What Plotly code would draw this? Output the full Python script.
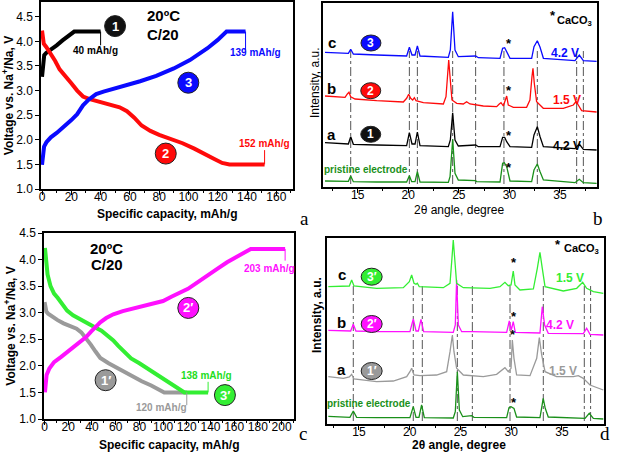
import plotly.graph_objects as go

FONT = "Liberation Sans, Arial, sans-serif"

# ---------------- Panel a: charge/discharge, first cycle set ----------------
cap_a1 = [0, 0.7, 1.5, 3, 6, 10, 14, 18, 22, 40]
volt_a1 = [3.28, 3.6, 3.72, 3.77, 3.83, 3.92, 4.02, 4.11, 4.2, 4.2]
cap_a2 = [0, 0.5, 1.2, 3, 6, 9, 12, 16, 20, 24, 28, 32, 36, 41, 47, 53, 58, 63, 68, 74, 80, 88, 96, 104, 110, 117, 123, 128, 152]
volt_a2 = [4.22, 4.05, 3.95, 3.88, 3.75, 3.6, 3.43, 3.3, 3.15, 3.0, 2.88, 2.83, 2.8, 2.77, 2.72, 2.66, 2.58, 2.45, 2.29, 2.18, 2.1, 2.02, 1.93, 1.82, 1.72, 1.62, 1.53, 1.5, 1.5]
cap_a3 = [0, 0.5, 1.4, 3, 6, 10, 14, 20, 24, 28, 32, 37, 42, 47, 53, 58, 67, 78, 90, 101, 108, 113, 120, 126, 139]
volt_a3 = [1.49, 1.7, 1.86, 1.95, 2.05, 2.14, 2.24, 2.4, 2.52, 2.7, 2.82, 2.93, 2.98, 3.02, 3.07, 3.11, 3.19, 3.3, 3.45, 3.62, 3.75, 3.86, 4.03, 4.2, 4.2]

# ---------------- Panel c: charge/discharge, second set ----------------
cap_c1 = [0, 0.5, 1.5, 3, 6, 11, 16, 22, 27, 31, 35, 39, 43, 47, 54, 61, 68, 75, 82, 90, 96, 101, 120]
volt_c1 = [3.2, 3.1, 3.02, 2.98, 2.93, 2.86, 2.8, 2.75, 2.7, 2.63, 2.52, 2.4, 2.27, 2.15, 2.05, 1.96, 1.87, 1.79, 1.71, 1.63, 1.55, 1.5, 1.5]
cap_c2 = [0.3, 0.8, 1.7, 4, 8, 14, 19, 25, 30, 35, 39, 43, 47, 52, 58, 66, 75, 84, 92, 100, 107, 114, 121, 129, 137, 146, 154, 163, 170, 174, 203]
volt_c2 = [1.5, 1.7, 1.83, 1.95, 2.07, 2.17, 2.26, 2.35, 2.45, 2.54, 2.64, 2.74, 2.82, 2.9, 2.97, 3.03, 3.08, 3.13, 3.17, 3.22, 3.3, 3.37, 3.45, 3.57, 3.7, 3.83, 3.95, 4.06, 4.14, 4.2, 4.2]
cap_c3 = [0.3, 1, 2.5, 5, 8, 11, 15, 19, 24, 30, 36, 42, 48, 53, 58, 62, 67, 73, 80, 87, 94, 101, 108, 114, 118, 138]
volt_c3 = [4.22, 4.0, 3.72, 3.5, 3.36, 3.28, 3.15, 3.04, 2.95, 2.87, 2.8, 2.73, 2.66, 2.58, 2.48, 2.38, 2.26, 2.14, 2.05, 1.95, 1.86, 1.76, 1.66, 1.56, 1.5, 1.5]

# ---------------- Panel b: XRD patterns ----------------
tt_b_pr = [11.77, 13.58, 14.08, 14.31, 14.57, 16.88, 19.84, 20.11, 20.34, 20.67, 20.90, 21.16, 23.96, 24.13, 24.39, 24.62, 24.95, 26.66, 26.76, 29.07, 29.33, 29.5, 29.73, 30.06, 32.2, 32.43, 32.76, 33.03, 33.36, 36.48, 36.91, 37.31, 38.62]
int_b_pr = [6.0, 5.33, 5.67, 11.0, 5.33, 5.0, 5.0, 11.3, 5.33, 5.33, 15.3, 5.0, 4.67, 10.3, 47.7, 13.7, 7.0, 6.33, 5.33, 5.0, 23.7, 24.3, 20.3, 6.0, 5.33, 17.0, 23.0, 15.3, 7.0, 4.33, 7.7, 4.33, 3.67]
tt_b_a = [11.77, 13.58, 14.08, 14.31, 14.57, 16.88, 19.84, 20.11, 20.37, 20.67, 20.90, 21.16, 23.96, 24.16, 24.39, 24.62, 24.95, 26.66, 26.93, 29.07, 29.33, 29.53, 29.73, 30.06, 32.2, 32.43, 32.76, 33.03, 33.36, 36.48, 36.91, 37.31, 38.62]
int_b_a = [44.3, 43.0, 43.0, 50.3, 42.7, 42.0, 41.3, 54.3, 43.0, 43.0, 55.0, 41.3, 40.3, 47.0, 74.3, 47.0, 41.0, 42.0, 40.3, 40.3, 49.7, 49.7, 45.3, 40.3, 39.7, 52.0, 60.3, 50.3, 40.3, 38.3, 43.0, 37.7, 37.0]
tt_b_b = [11.77, 12.92, 13.75, 13.98, 14.14, 14.31, 14.74, 16.88, 19.51, 19.84, 20.04, 20.24, 20.44, 20.6, 20.77, 21.49, 23.47, 23.73, 23.9, 24.0, 24.13, 24.32, 24.79, 25.44, 25.77, 26.1, 27.42, 28.74, 29.0, 29.17, 29.4, 29.6, 29.73, 29.89, 30.39, 31.7, 32.03, 32.23, 32.33, 32.46, 32.69, 33.35, 35.33, 36.32, 36.58, 36.81, 37.14, 38.62]
int_b_b = [91.0, 90.3, 89.7, 93.0, 94.7, 90.3, 88.0, 86.3, 85.0, 88.7, 92.7, 88.7, 87.0, 89.3, 86.3, 84.3, 83.0, 90.3, 117.0, 127.0, 110.3, 87.0, 83.7, 83.0, 85.3, 83.0, 81.0, 80.3, 83.0, 84.3, 81.0, 87.0, 91.0, 82.0, 79.7, 79.7, 87.0, 110.3, 118.7, 103.7, 85.3, 78.7, 78.7, 82.0, 85.3, 82.0, 76.3, 75.0]
tt_b_c = [11.77, 13.58, 14.08, 14.31, 14.57, 16.88, 19.84, 20.11, 20.37, 20.67, 20.90, 21.16, 23.96, 24.16, 24.39, 24.62, 24.95, 26.66, 26.93, 29.07, 29.33, 29.53, 29.73, 30.06, 32.2, 32.43, 32.76, 33.03, 33.36, 36.48, 36.91, 37.31, 38.62]
int_b_c = [134.7, 133.7, 133.7, 137.7, 133.0, 132.0, 131.0, 139.7, 132.0, 132.0, 141.0, 131.0, 129.7, 137.0, 175.3, 137.0, 130.3, 131.0, 129.3, 128.7, 138.7, 139.3, 135.3, 128.7, 128.7, 140.3, 146.3, 139.7, 128.7, 126.3, 132.0, 126.3, 125.7]
ref_lines_b = [14.31, 20.11, 20.9, 24.39, 26.66, 29.46, 32.76, 36.65, 37.31]

# ---------------- Panel d: XRD patterns ----------------
tt_d_pr = [11.98, 13.46, 14.11, 14.44, 14.77, 16.74, 20.02, 20.35, 20.62, 20.91, 21.17, 21.44, 24.29, 24.49, 24.69, 24.89, 25.22, 26.1, 26.33, 29.55, 29.78, 29.98, 30.11, 30.27, 30.53, 32.83, 32.99, 33.15, 33.35, 33.65, 37.27, 37.69, 38.09, 39.07]
int_d_pr = [7.67, 7.0, 6.67, 13.0, 6.67, 6.33, 6.33, 17.33, 6.67, 6.67, 19.0, 6.33, 6.0, 12.33, 52.33, 14.0, 7.33, 8.33, 6.67, 6.33, 16.33, 17.33, 16.33, 15.67, 7.0, 6.33, 15.67, 25.67, 15.67, 7.0, 5.67, 10.67, 5.67, 5.0]
tt_d_a = [11.98, 13.46, 14.05, 14.28, 14.51, 16.74, 18.38, 19.7, 20.02, 20.19, 20.42, 21.01, 22.65, 23.64, 23.97, 24.2, 24.36, 24.62, 25.28, 27.25, 28.56, 29.15, 29.38, 29.71, 29.98, 30.11, 30.27, 30.53, 31.85, 32.51, 32.77, 33.0, 33.33, 34.47, 36.12, 36.61, 37.1, 37.76, 39.07]
int_d_a = [47.3, 45.7, 47.0, 49.7, 45.0, 42.3, 43.0, 47.3, 52.3, 55.7, 49.0, 48.3, 49.0, 52.3, 72.3, 89.0, 72.3, 55.7, 49.0, 47.3, 49.7, 54.0, 56.3, 52.3, 55.7, 84.0, 65.7, 49.0, 48.3, 65.7, 86.3, 69.0, 52.3, 47.3, 47.3, 48.3, 45.7, 39.0, 34.0]
tt_d_b = [11.98, 13.46, 14.18, 14.44, 14.7, 16.74, 20.02, 20.35, 20.62, 20.85, 21.11, 21.37, 24.29, 24.49, 24.62, 24.79, 25.12, 26.1, 29.55, 29.81, 30.01, 30.2, 30.4, 32.83, 33.06, 33.29, 33.65, 37.1, 37.43, 37.76, 39.07]
int_d_b = [93.7, 93.0, 93.0, 99.7, 93.0, 92.3, 92.3, 105.0, 93.0, 93.0, 104.7, 92.3, 91.7, 99.0, 144.0, 99.0, 92.3, 92.3, 91.7, 103.0, 94.0, 102.3, 91.7, 91.0, 117.3, 99.0, 90.7, 90.3, 95.7, 89.7, 89.0]
tt_d_c = [11.98, 13.46, 14.05, 14.28, 14.51, 16.74, 19.37, 19.96, 20.19, 20.42, 20.62, 20.75, 20.94, 23.31, 23.97, 24.16, 24.29, 24.43, 24.62, 25.28, 27.91, 28.89, 29.38, 29.71, 29.98, 30.2, 30.37, 30.86, 32.18, 32.57, 32.83, 33.06, 33.33, 35.13, 36.45, 37.04, 37.43, 38.09, 39.07]
int_d_c = [137.3, 137.3, 138.0, 144.0, 138.0, 135.7, 136.3, 142.3, 149.0, 140.7, 139.7, 140.7, 137.3, 136.3, 140.7, 165.7, 184.0, 165.7, 140.7, 136.3, 135.7, 137.3, 141.7, 138.3, 139.0, 153.0, 139.0, 134.0, 135.0, 155.7, 171.7, 155.7, 137.3, 133.0, 135.7, 141.7, 135.7, 132.3, 130.7]
ref_lines_d = [14.44, 20.35, 21.24, 24.69, 26.17, 29.88, 33.16, 37.2, 37.82]

x_ticks_cap_a = [0, 20, 40, 60, 80, 100, 120, 140, 160]
x_ticks_cap_c = [0, 20, 40, 60, 80, 100, 120, 140, 160, 180, 200]
x_ticks_tt = [15, 20, 25, 30, 35]

C_RED, C_BLUE, C_BLACK = "#ff0a0a", "#0a0aff", "#000000"
C_PR, C_GRAY, C_MAG, C_GRN = "#1a901a", "#9a9a9a", "#ff10ff", "#33ee33"

fig = go.Figure()

def line(x, y, color, width, xa, ya):
    fig.add_trace(go.Scatter(x=x, y=y, mode="lines", line=dict(color=color, width=width),
                             xaxis=xa, yaxis=ya, showlegend=False, hoverinfo="skip"))

line(cap_a1, volt_a1, C_BLACK, 4, "x", "y")
line(cap_a2, volt_a2, C_RED, 4, "x", "y")
line(cap_a3, volt_a3, C_BLUE, 4, "x", "y")

line(cap_c1, volt_c1, C_GRAY, 4, "x3", "y3")
line(cap_c3, volt_c3, C_GRN, 4, "x3", "y3")
line(cap_c2, volt_c2, C_MAG, 4, "x3", "y3")

line(tt_b_pr, int_b_pr, C_PR, 1.3, "x2", "y2")
line(tt_b_a, int_b_a, C_BLACK, 1.3, "x2", "y2")
line(tt_b_b, int_b_b, C_RED, 1.3, "x2", "y2")
line(tt_b_c, int_b_c, C_BLUE, 1.3, "x2", "y2")

line(tt_d_pr, int_d_pr, C_PR, 1.3, "x4", "y4")
line(tt_d_a, int_d_a, C_GRAY, 1.3, "x4", "y4")
line(tt_d_b, int_d_b, C_MAG, 1.3, "x4", "y4")
line(tt_d_c, int_d_c, C_GRN, 1.3, "x4", "y4")

shapes = []
annotations = []

for xv in ref_lines_b:
    shapes.append(dict(type="line", xref="x2", yref="y2", x0=xv, x1=xv, y0=3, y1=136,
                       line=dict(color="#555555", width=1, dash="dashdot"), layer="below"))
for xv in ref_lines_d:
    shapes.append(dict(type="line", xref="x4", yref="y4", x0=xv, x1=xv, y0=3, y1=140,
                       line=dict(color="#555555", width=1, dash="dashdot"), layer="below"))

# leader lines for capacity labels
def leader(xr, yr, x, y0, y1, color):
    shapes.append(dict(type="line", xref=xr, yref=yr, x0=x, x1=x, y0=y0, y1=y1,
                       line=dict(color=color, width=1)))

leader("x", "y", 40, 4.2, 3.92, C_BLACK)
leader("x", "y", 139, 4.2, 3.82, C_BLUE)
leader("x", "y", 152, 1.5, 1.79, C_RED)
leader("x3", "y3", 203, 4.2, 3.98, C_MAG)
leader("x3", "y3", 138, 1.5, 1.70, C_GRN)
leader("x3", "y3", 120, 1.5, 1.26, C_GRAY)

def text(xr, yr, x, y, t, color="black", size=10, bold=True, xanchor="center", family=FONT):
    annotations.append(dict(xref=xr, yref=yr, x=x, y=y, text=("<b>%s</b>" % t) if bold else t,
                            showarrow=False, xanchor=xanchor, yanchor="middle",
                            font=dict(family=family, size=size, color=color)))

text("x", "y", 36.8, 3.81, "40 mAh/g", C_BLACK)
text("x", "y", 145.5, 3.77, "139 mAh/g", C_BLUE)
text("x", "y", 151.6, 1.93, "152 mAh/g", C_RED)
text("x", "y", 82.9, 4.53, "20ºC", size=15)
text("x", "y", 82.9, 4.14, "C/20", size=15)

text("x3", "y3", 190, 3.84, "203 mAh/g", C_MAG)
text("x3", "y3", 137, 1.81, "138 mAh/g", "#22dd22")
text("x3", "y3", 99, 1.21, "120 mAh/g", C_GRAY)
text("x3", "y3", 52.3, 4.21, "20ºC", size=15)
text("x3", "y3", 52.3, 3.90, "C/20", size=15)

# panel b labels
for lab, yv in [("c", 144), ("b", 98), ("a", 53)]:
    text("x2", "y2", 12.43, yv, lab, size=15)
text("x2", "y2", 35.5, 133.7, "4.2 V", C_BLUE, size=12)
text("x2", "y2", 35.66, 87, "1.5 V", C_RED, size=12)
text("x2", "y2", 35.66, 41.3, "4.2 V", C_BLACK, size=12)
text("x2", "y2", 15.8, 17.7, "pristine electrode", C_PR, size=10)
for yv in [143.7, 96.3, 52, 19.3]:
    text("x2", "y2", 29.96, yv, "*", size=13)
text("x2", "y2", 34.28, 171, "*", size=13)
text("x2", "y2", 36.48, 166.3, "CaCO<sub>3</sub>", size=11)

# panel d labels
for lab, yv in [("c", 149.7), ("b", 101.7), ("a", 55)]:
    text("x4", "y4", 13.3, yv, lab, size=15)
text("x4", "y4", 35.79, 146.3, "1.5 V", C_GRN, size=12)
text("x4", "y4", 34.77, 99, "4.2 V", C_MAG, size=12)
text("x4", "y4", 35.13, 53, "1.5 V", C_GRAY, size=12)
text("x4", "y4", 16.0, 20.7, "pristine electrode", C_PR, size=10)
for xv, yv in [(30.27, 161.7), (30.3, 107.3), (30.2, 89.3), (30.27, 21.3)]:
    text("x4", "y4", xv, yv, "*", size=13)
text("x4", "y4", 34.64, 179.7, "*", size=13)
text("x4", "y4", 36.94, 175, "CaCO<sub>3</sub>", size=11)

# numbered circles
def badge(xr, yr, x, y, label, color, w=21, h=21, size=13):
    shapes.append(dict(type="circle", xref=xr, yref=yr, xsizemode="pixel", ysizemode="pixel",
                       xanchor=x, yanchor=y, x0=-w / 2, x1=w / 2, y0=-h / 2, y1=h / 2,
                       fillcolor=color, line=dict(color="#222222", width=1)))
    text(xr, yr, x, y, label, "white", size=size)

badge("x", "y", 49.9, 4.31, "1", "#111111")
badge("x", "y", 84.5, 1.72, "2", C_RED)
badge("x", "y", 99.9, 3.16, "3", C_BLUE)
badge("x2", "y2", 16.31, 144, "3", C_BLUE, 20, 16, 12)
badge("x2", "y2", 16.29, 96.3, "2", C_RED, 20, 16, 12)
badge("x2", "y2", 16.29, 52.7, "1", "#111111", 20, 16, 12)
badge("x3", "y3", 51.5, 1.73, "1′", C_GRAY)
badge("x3", "y3", 121.3, 3.09, "2′", C_MAG)
badge("x3", "y3", 152.2, 1.45, "3′", C_GRN)
badge("x4", "y4", 16.25, 147.3, "3′", C_GRN, 21, 17, 12)
badge("x4", "y4", 16.25, 100, "2′", C_MAG, 21, 17, 12)
badge("x4", "y4", 16.25, 53, "1′", C_GRAY, 21, 17, 12)

# axis titles (placed as text so they sit where the reference puts them)
def paper_text(px, py, t, angle=0):
    annotations.append(dict(xref="paper", yref="paper", x=px / 620, y=1 - py / 455, text=t,
                            textangle=angle, showarrow=False, xanchor="center", yanchor="middle",
                            font=dict(family=FONT, size=12, color="black")))

paper_text(167.5, 214, "<b>Specific capacity, mAh/g</b>")
paper_text(169, 445, "<b>Specific capacity, mAh/g</b>")
paper_text(459, 210, "2θ angle, degree")
paper_text(459, 445, "<b>2θ angle, degree</b>")
paper_text(315, 83, "Intensity, a.u.", -90)
paper_text(317, 315, "<b>Intensity, a.u.</b>", -90)

# panel letters
for lab, px, py in [("a", 304, 218), ("b", 605, 218), ("c", 303, 446), ("d", 612, 446)]:
    annotations.append(dict(xref="paper", yref="paper", x=px / 620, y=1 - py / 455, text=lab,
                            showarrow=False, font=dict(family="Liberation Serif, Times New Roman, serif", size=19, color="black")))

tickfont = dict(family=FONT, size=12, color="black")
titlefont = dict(family=FONT, size=12, color="black")
base = dict(showline=True, linecolor="black", linewidth=1.5, mirror=True, ticks="outside",
            tickcolor="black", ticklen=4, tickwidth=1.2, showgrid=False, zeroline=False,
            tickfont=tickfont, automargin=False)
minor_cap = dict(dtick=10, tick0=0, ticks="outside", ticklen=2.5, tickcolor="black")
minor_tt = dict(dtick=2.5, tick0=0, ticks="outside", ticklen=2.5, tickcolor="black")

fig.update_layout(
    width=620, height=455, margin=dict(l=0, r=0, t=0, b=0, autoexpand=False),
    paper_bgcolor="white", plot_bgcolor="white", showlegend=False,
    xaxis=dict(base, anchor="y", domain=[41 / 620, 293 / 620], range=[-0.7, 171.4],
               tickvals=x_ticks_cap_a, minor=minor_cap, ticklabelstandoff=-8),
    yaxis=dict(base, anchor="x", domain=[1 - 189 / 455, 1 - 2 / 455], range=[1.0, 4.8],
               dtick=0.5, tick0=1.0, tickformat=".1f",
               title=dict(text="<b>Voltage vs. Na<sup>+</sup>/Na, V</b>", font=titlefont, standoff=1)),
    xaxis2=dict(base, anchor="y2", domain=[323.3 / 620, 597 / 620], range=[11.6, 38.66],
                tickvals=x_ticks_tt, minor=minor_tt, ticklabelstandoff=-8),
    yaxis2=dict(base, anchor="x2", domain=[1 - 187 / 455, 1 - 3 / 455], range=[0, 184],
                ticks="", showticklabels=False),
    xaxis3=dict(base, anchor="y3", domain=[44 / 620, 294 / 620], range=[-0.5, 210.5],
                tickvals=x_ticks_cap_c, minor=minor_cap, ticklabelstandoff=-8),
    yaxis3=dict(base, anchor="x3", domain=[1 - 419 / 455, 1 - 233 / 455], range=[1.0, 4.5],
                dtick=0.5, tick0=1.0, tickformat=".1f",
                title=dict(text="<b>Voltage vs. Na<sup>+</sup>/Na, V</b>", font=titlefont, standoff=1)),
    xaxis4=dict(base, anchor="y4", domain=[326.7 / 620, 604 / 620], range=[11.82, 39.14],
                tickvals=x_ticks_tt, minor=minor_tt, ticklabelstandoff=-8),
    yaxis4=dict(base, anchor="x4", domain=[1 - 424 / 455, 1 - 238 / 455], range=[0, 186],
                ticks="", showticklabels=False),
    shapes=shapes, annotations=annotations,
)

fig.write_html("out.html", config={"displayModeBar": False},
               post_script="document.body.style.margin='0';document.body.style.overflow='hidden';")
